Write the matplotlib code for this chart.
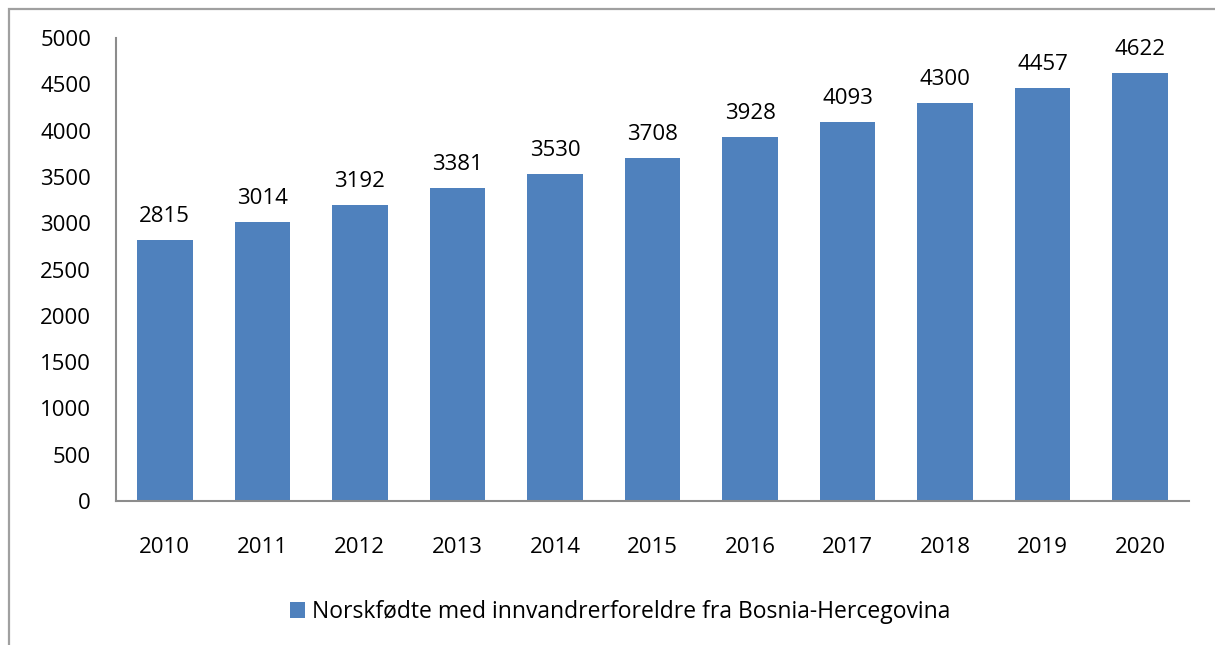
import matplotlib.pyplot as plt
from matplotlib.patches import Rectangle

years = ['2010', '2011', '2012', '2013', '2014', '2015', '2016', '2017', '2018', '2019', '2020']
counts = [2815, 3014, 3192, 3381, 3530, 3708, 3928, 4093, 4300, 4457, 4622]
series_name = 'Norskfødte med innvandrerforeldre fra Bosnia-Hercegovina'
yticks = [0, 500, 1000, 1500, 2000, 2500, 3000, 3500, 4000, 4500, 5000]

plt.rcParams['font.family'] = ['Open Sans', 'DejaVu Sans']

W, H = 1215, 645
fig = plt.figure(figsize=(W / 100, H / 100), dpi=100)

# grey frame round the chart area (right and bottom fall outside the image)
fig.patches.append(Rectangle((9 / W, -0.05), 1.1, (H - 9) / H + 0.05,
                             transform=fig.transFigure, fill=False,
                             edgecolor='#a0a0a0', linewidth=1.6))

ax = fig.add_axes([116 / W, 1 - 501 / H, (1189 - 116) / W, (501 - 38) / H])
x = range(len(years))
bars = ax.bar(x, counts, width=0.57, color='#4F81BD', label=series_name)

for xi, v in zip(x, counts):
    ax.annotate(str(v), (xi, v), xytext=(0, 13), textcoords='offset points',
                ha='center', va='baseline', fontsize=16)

ax.set_xlim(-0.5, len(years) - 0.5)
ax.set_ylim(0, 5000)
ax.set_yticks(yticks)
ax.set_xticks(list(x))
ax.set_xticklabels(years)
ax.tick_params(axis='both', length=0, labelsize=16)
ax.tick_params(axis='x', pad=26)
ax.tick_params(axis='y', pad=18)

for s in ['top', 'right']:
    ax.spines[s].set_visible(False)
for s in ['left', 'bottom']:
    ax.spines[s].set_color('#8c8c8c')
    ax.spines[s].set_linewidth(1.5)

fig.legend(loc='center', bbox_to_anchor=(620 / W, 1 - 612 / H), frameon=False,
           fontsize=16.5, handlelength=0.65, handleheight=0.65, handletextpad=0.3)

fig.savefig('out.png', dpi=100)
